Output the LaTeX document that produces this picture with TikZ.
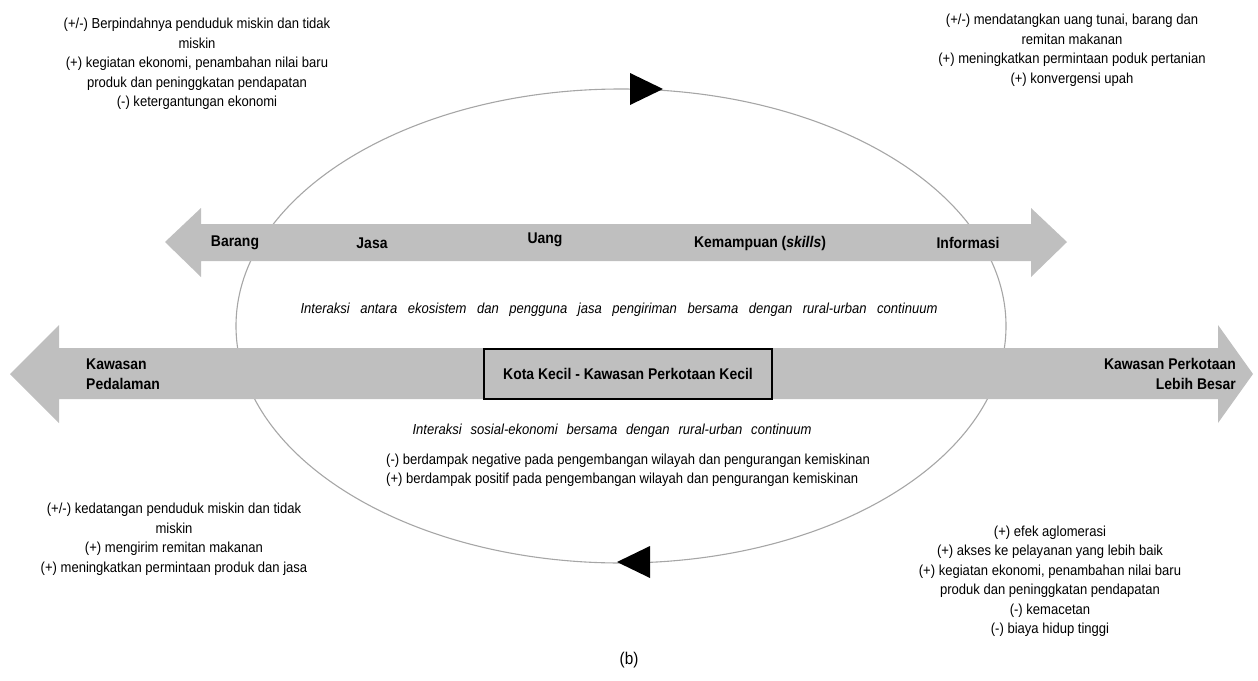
\documentclass[tikz,border=0pt]{standalone}
\usepackage{fontspec}
\setmainfont{Liberation Sans}[FakeStretch=0.9]
\usetikzlibrary{positioning}

\definecolor{band}{HTML}{BFBFBF}
\definecolor{ring}{HTML}{A6A6A6}

\begin{document}
\begin{tikzpicture}[x=1pt,y=-1pt,
  note/.style={align=center,inner sep=0pt,font=\fontsize{14.5}{19.5}\selectfont},
  lead/.style={note,font=\fontsize{14.5}{19.5}\selectfont\itshape},
  tag/.style={inner sep=0pt,font=\fontsize{15.5}{20}\selectfont\bfseries},
  hub/.style={draw=black,line width=1.2pt,fill=band,minimum width=288pt,minimum height=50pt,
    font=\fontsize{15.5}{17}\selectfont\bfseries}]
  \useasboundingbox (0,0) rectangle (1258,680);

  % the cycle
  \draw[ring,line width=1.1pt] (621,326) ellipse [x radius=385pt,y radius=237pt];
  \fill (630,73) -- (663,89) -- (630,105) -- cycle;
  \fill (650,546) -- (617,562) -- (650,578) -- cycle;

  % flows and the continuum
  \fill[band] (165,242) -- (201,208) -- (201,224) -- (1031,224) -- (1031,208) -- (1067,242)
    -- (1031,277) -- (1031,261) -- (201,261) -- (201,277) -- cycle;
  \fill[band] (10,374) -- (59,325) -- (59,348) -- (1218,348) -- (1218,325) -- (1253,374)
    -- (1218,423) -- (1218,399) -- (59,399) -- (59,423) -- cycle;

  \node[tag] (barang) at (235,243) {Barang};
  \node[tag] (jasa)   at (372,243) {Jasa};
  \node[tag] (uang)   at (545,240) {Uang};
  \node[tag] (skills) at (760,243) {Kemampuan (\textit{skills})};
  \node[tag] (info)   at (968,243) {Informasi};

  \node[hub] (kota) at (628,374) {Kota Kecil - Kawasan Perkotaan Kecil};
  \node[tag,align=left,anchor=west]  (rural) at (86,374)   {Kawasan\\Pedalaman};
  \node[tag,align=right,anchor=east] (urban) at (1236,374) {Kawasan Perkotaan\\Lebih Besar};

  \node[lead] (eco) at (619,310)
    {\makebox[637pt][s]{Interaksi antara ekosistem dan pengguna jasa pengiriman bersama dengan rural-urban continuum}};
  \node[lead] (sosek) at (612,431)
    {\makebox[399pt][s]{Interaksi sosial-ekonomi bersama dengan rural-urban continuum}};
  \node[note,align=left,anchor=west] (impact) at (386,470)
    {(-) berdampak negative pada pengembangan wilayah dan pengurangan kemiskinan\\
     (+) berdampak positif pada pengembangan wilayah dan pengurangan kemiskinan};

  % effects in each corner
  \node[note] (nw) at (197,64) {(+/-) Berpindahnya penduduk miskin dan tidak\\ miskin\\
    (+) kegiatan ekonomi, penambahan nilai baru\\ produk dan peninggkatan pendapatan\\
    (-) ketergantungan ekonomi};
  \node[note] (ne) at (1072,50) {(+/-) mendatangkan uang tunai, barang dan\\ remitan makanan\\
    (+) meningkatkan permintaan poduk pertanian\\ (+) konvergensi upah};
  \node[note] (sw) at (174,539) {(+/-) kedatangan penduduk miskin dan tidak\\ miskin\\
    (+) mengirim remitan makanan\\ (+) meningkatkan permintaan produk dan jasa};
  \node[note] (se) at (1050,581) {(+) efek aglomerasi\\ (+) akses ke pelayanan yang lebih baik\\
    (+) kegiatan ekonomi, penambahan nilai baru\\ produk dan peninggkatan pendapatan\\
    (-) kemacetan\\ (-) biaya hidup tinggi};

  \node[font=\fontsize{17}{19}\selectfont] (cap) at (629,660) {(b)};
\end{tikzpicture}
\end{document}
